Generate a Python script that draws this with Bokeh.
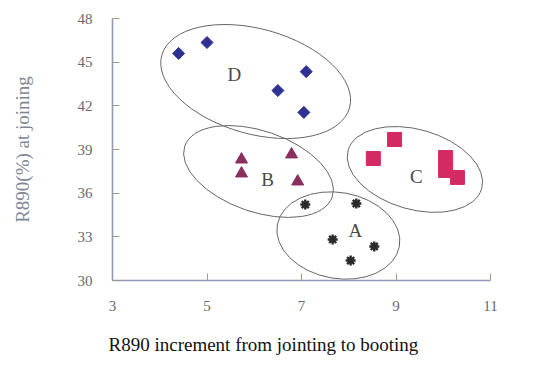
import numpy as np
from bokeh.plotting import figure
from bokeh.models import Range1d, ColumnDataSource, Title
from bokeh.core.properties import value
from bokeh.embed import file_html
from bokeh.resources import INLINE

# ---- data ----
x_ticks = [3, 5, 7, 9, 11]
y_ticks = [30, 33, 36, 39, 42, 45, 48]

# group D (diamonds)
d_x = [4.40, 5.00, 7.10, 6.50, 7.05]
d_y = [45.60, 46.35, 44.35, 43.05, 41.55]
# group B (triangles)
b_x = [5.73, 5.73, 6.79, 6.92]
b_y = [38.31, 37.35, 38.66, 36.80]
# group C (squares)
c_x = [8.52, 8.97, 10.05, 10.05, 10.30]
c_y = [38.38, 39.69, 38.45, 37.56, 37.08]
# group A (stars)
a_x = [7.08, 8.16, 7.66, 8.54, 8.04]
a_y = [35.22, 35.29, 32.82, 32.34, 31.37]

group_names = ["D", "B", "C", "A"]
label_x = [5.58, 6.28, 9.43, 8.14]
label_y = [44.15, 36.94, 37.14, 33.43]
ellipse_x = [6.03, 6.09, 9.40, 7.78]
ellipse_y = [43.67, 37.49, 37.63, 33.09]

x_title = "R890 increment from jointing to booting"
y_title = "R890(%) at joining"

# ---- styling / layout ----
ell_w = [195, 156, 139, 124]
ell_h = [105, 81, 80, 86]
ell_angle = [np.radians(-15.7), np.radians(-19), np.radians(-16), np.radians(-10)]
SERIF = "Liberation Serif"

p = figure(width=532, height=380, x_range=Range1d(3, 11), y_range=Range1d(30, 48),
           output_backend="svg", toolbar_location=None,
           min_border_left=112, min_border_right=42, min_border_top=18, min_border_bottom=100)

p.xgrid.grid_line_color = None
p.ygrid.grid_line_color = None
p.outline_line_color = None
p.background_fill_color = "white"
p.border_fill_color = "white"

for ax in (p.xaxis[0], p.yaxis[0]):
    ax.axis_line_color = "#8e9ab6"
    ax.axis_line_width = 1.6
    ax.major_tick_in = 7
    ax.major_tick_out = 0
    ax.major_tick_line_color = "#a09c88"
    ax.minor_tick_line_color = None
    ax.major_label_text_font = SERIF
    ax.major_label_text_font_size = "15px"
    ax.major_label_text_color = "#6a6a6a"
    ax.axis_label_text_font = SERIF
    ax.axis_label_text_font_style = "normal"

p.xaxis.ticker = x_ticks
p.yaxis.ticker = y_ticks
p.xaxis.major_label_standoff = 20
p.yaxis.major_label_standoff = 20
p.yaxis.axis_label = y_title
p.yaxis.axis_label_text_font_size = "19px"
p.yaxis.axis_label_text_color = "#7f8796"
p.yaxis.axis_label_standoff = 42

p.add_layout(Title(text=x_title, align="left", offset=-4, standoff=37,
                   text_font=SERIF, text_font_size="19px", text_font_style="normal",
                   text_color="#111111"), "below")

ell_src = ColumnDataSource(dict(x=ellipse_x, y=ellipse_y, w=ell_w, h=ell_h, a=ell_angle))
p.ellipse(x="x", y="y", width="w", height="h", angle="a", source=ell_src,
          width_units="screen", height_units="screen",
          fill_color=None, line_color="#666666", line_width=1.0)

p.scatter(d_x, d_y, marker="square", angle=np.pi / 4, size=8.5,
          fill_color="#2e3192", line_color="#2e3192")
p.scatter(b_x, b_y, marker="triangle", size=12,
          fill_color="#8a2f5e", line_color="#8a2f5e")
p.scatter(c_x, c_y, marker="square", size=14,
          fill_color="#d42a63", line_color="#d42a63")
p.scatter(a_x, a_y, marker="asterisk", size=10, line_width=2.4,
          line_color="#2a2a2a")

lab_src = ColumnDataSource(dict(x=label_x, y=label_y, t=group_names))
p.text(x="x", y="y", text="t", source=lab_src, text_font=value(SERIF),
       text_font_size="19px", text_align="center", text_baseline="middle",
       text_color="#4a4a4a")

open("out.html", "w").write(file_html(p, INLINE))
